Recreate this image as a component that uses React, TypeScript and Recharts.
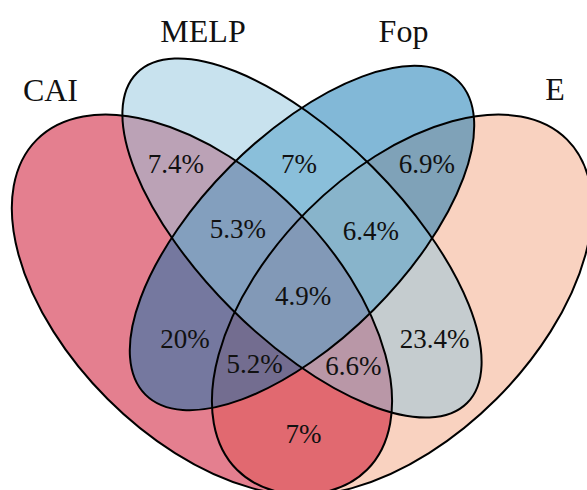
import React from 'react';
import { ScatterChart, Scatter, XAxis, YAxis } from 'recharts';

// ---- data ----
const setNames = ['CAI', 'MELP', 'Fop', 'E'];
const setColors = ['#CA0020', '#92C5DE', '#0571B0', '#F4A582'];

const regionLabels = ['7.4%', '7%', '6.9%', '5.3%', '6.4%', '4.9%', '20%', '5.2%', '6.6%', '23.4%', '7%'];

// ---- layout (Venn units, 0..1 like VennDiagram) ----
const ellipseCx = [0.35, 0.5, 0.5, 0.65];
const ellipseCy = [0.47, 0.57, 0.57, 0.47];
const ellipseA = [0.35, 0.35, 0.332, 0.35];
const ellipseB = [0.2, 0.15, 0.152, 0.2];
const ellipseRot = [45, 45, -45, -45];
const drawOrder = [3, 0, 2, 1];

const setLabelX = [0.1229, 0.3516, 0.6522, 0.8793];
const setLabelY = [0.7754, 0.8639, 0.8639, 0.7769];

const regionX = [0.311, 0.4955, 0.6874, 0.404, 0.6034, 0.5015, 0.3246, 0.4288, 0.5772, 0.6987, 0.5022];
const regionY = [0.6675, 0.6675, 0.6675, 0.57, 0.567, 0.4696, 0.405, 0.3676, 0.3646, 0.405, 0.2627];

const W = 587;
const H = 490;
const SCALE = 667; // px per Venn unit
const X_DOMAIN: [number, number] = [0.5 - 302 / SCALE, 0.5 + (W - 302) / SCALE];
const Y_DOMAIN: [number, number] = [0.57 - (H - 238) / SCALE, 0.57 + 238 / SCALE];

const ellipseData = setNames.map((name, i) => ({
  name,
  x: ellipseCx[i],
  y: ellipseCy[i],
  a: ellipseA[i],
  b: ellipseB[i],
  rot: ellipseRot[i],
  color: setColors[i],
}));

const setLabelData = setNames.map((name, i) => ({ name, x: setLabelX[i], y: setLabelY[i] }));
const regionData = regionLabels.map((name, i) => ({ name, x: regionX[i], y: regionY[i] }));

const FONT = "'Liberation Serif', 'DejaVu Serif', 'Times New Roman', serif";

const EllipseFill = (props: any) => {
  const { cx, cy, payload } = props;
  return (
    <ellipse
      cx={cx}
      cy={cy}
      rx={payload.a * SCALE}
      ry={payload.b * SCALE}
      transform={`rotate(${payload.rot} ${cx} ${cy})`}
      fill={payload.color}
      fillOpacity={0.5}
      stroke="none"
    />
  );
};

const EllipseLine = (props: any) => {
  const { cx, cy, payload } = props;
  return (
    <ellipse
      cx={cx}
      cy={cy}
      rx={payload.a * SCALE}
      ry={payload.b * SCALE}
      transform={`rotate(${payload.rot} ${cx} ${cy})`}
      fill="none"
      stroke="#000"
      strokeWidth={2}
    />
  );
};

const makeText = (size: number) => (props: any) => {
  const { cx, cy, payload } = props;
  return (
    <text
      x={cx}
      y={cy}
      textAnchor="middle"
      style={{ fontFamily: FONT, fontSize: size, fill: '#111' }}
    >
      {payload.name}
    </text>
  );
};

const SetText = makeText(32);
const RegionText = makeText(27);

export default function App() {
  return (
    <div style={{ position: 'absolute', left: 0, top: 0, width: W, height: H, background: '#fff', fontFamily: FONT }}>
      <ScatterChart width={W} height={H} margin={{ top: 0, right: 0, bottom: 0, left: 0 }} style={{ fontFamily: FONT }}>
        <XAxis type="number" dataKey="x" domain={X_DOMAIN} allowDataOverflow hide />
        <YAxis type="number" dataKey="y" domain={Y_DOMAIN} allowDataOverflow hide />
        {drawOrder.map((i) => (
          <Scatter
            key={'f' + i}
            data={[ellipseData[i]]}
            shape={EllipseFill}
            isAnimationActive={false}
          />
        ))}
        {drawOrder.map((i) => (
          <Scatter
            key={'l' + i}
            data={[ellipseData[i]]}
            shape={EllipseLine}
            isAnimationActive={false}
          />
        ))}
        <Scatter data={setLabelData} shape={SetText} isAnimationActive={false} />
        <Scatter data={regionData} shape={RegionText} isAnimationActive={false} />
      </ScatterChart>
    </div>
  );
}
